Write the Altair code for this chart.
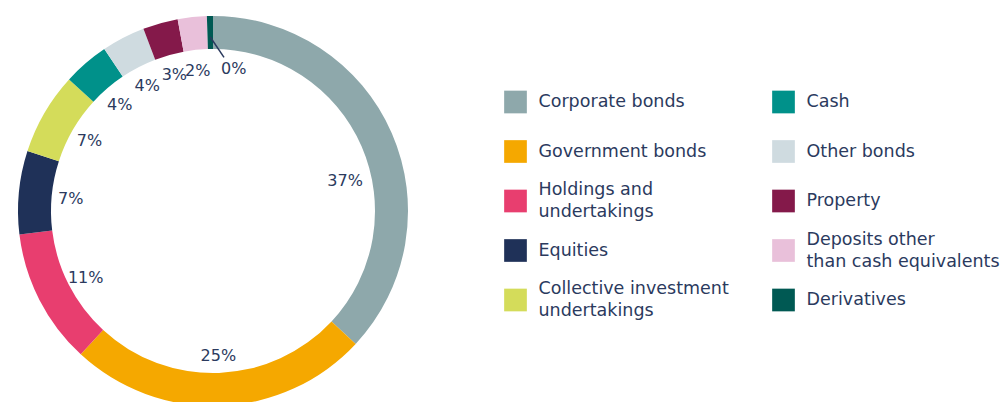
import math
import altair as alt
import pandas as pd

# ---- data ----
names = ["Corporate bonds", "Government bonds", "Holdings and undertakings", "Equities",
         "Collective investment undertakings", "Cash", "Other bonds", "Property",
         "Deposits other than cash equivalents", "Derivatives"]
legend_labels = ["Corporate bonds", "Government bonds", "Holdings and\nundertakings", "Equities",
                 "Collective investment\nundertakings", "Cash", "Other bonds", "Property",
                 "Deposits other\nthan cash equivalents", "Derivatives"]
values = [36.9, 24.9, 11.2, 6.9, 6.8, 3.8, 3.6, 2.9, 2.4, 0.5]
pct_labels = ["37%", "25%", "11%", "7%", "7%", "4%", "4%", "3%", "2%", "0%"]
colors = ["#8ea8ab", "#f5a800", "#e83e6f", "#1f3158", "#d4dc5a",
          "#00918a", "#cfdbe0", "#84194a", "#e9c0da", "#005953"]
legend_col = [0, 0, 0, 0, 0, 1, 1, 1, 1, 1]
legend_row = [0, 1, 2, 3, 4, 0, 1, 2, 3, 4]

TXT = "#2b3a5e"
FONT = "DejaVu Sans"

df = pd.DataFrame({
    "name": names,
    "value": values,
    "order": list(range(len(names))),
    "pct": pct_labels,
})
df["main_lbl"] = [p if n not in ("Corporate bonds", "Derivatives") else "" for n, p in zip(names, pct_labels)]
df["corp_lbl"] = [p if n == "Corporate bonds" else "" for n, p in zip(names, pct_labels)]
df["deriv_lbl"] = [p if n == "Derivatives" else "" for n, p in zip(names, pct_labels)]

color_scale = alt.Scale(domain=names, range=colors)

base = alt.Chart(df).encode(
    theta=alt.Theta("value:Q", stack=True),
    order=alt.Order("order:Q"),
)

arc = base.mark_arc(innerRadius=162, outerRadius=195).encode(
    color=alt.Color("name:N", scale=color_scale, legend=None)
)
txt_main = base.mark_text(radius=143, dy=2, fontSize=16, font=FONT, color=TXT).encode(text="main_lbl:N")
txt_corp = base.mark_text(radius=143, dx=1, dy=27, fontSize=16, font=FONT, color=TXT).encode(text="corp_lbl:N")
txt_der = base.mark_text(radius=143, dx=23, dy=1, fontSize=16, font=FONT, color=TXT).encode(text="deriv_lbl:N")

# leader line for the tiny derivatives slice, derived from the data
total = sum(values)
mid = (sum(values[:-1]) + values[-1] / 2) / total * 2 * math.pi
a2 = mid + math.radians(5)
lead = pd.DataFrame({
    "x": [174 * math.sin(mid)], "y": [174 * math.cos(mid)],
    "x2": [154 * math.sin(a2)], "y2": [154 * math.cos(a2)],
})
rule = alt.Chart(lead).mark_rule(color=TXT, strokeWidth=1.5).encode(
    x=alt.X("x:Q", scale=alt.Scale(domain=[-200, 200], nice=False, zero=False), axis=None),
    y=alt.Y("y:Q", scale=alt.Scale(domain=[-198, 198], nice=False, zero=False), axis=None),
    x2="x2:Q", y2="y2:Q",
)

donut = alt.layer(arc, txt_main, txt_corp, txt_der, rule).properties(width=400, height=396)

leg_df = pd.DataFrame({
    "name": names,
    "label1": [l if "\n" not in l else "" for l in legend_labels],
    "label2": [l if "\n" in l else "" for l in legend_labels],
    "col": legend_col,
    "row": legend_row,
})
leg_base = alt.Chart(leg_df).encode(
    x=alt.X("col:Q", scale=alt.Scale(domain=[0, 1], range=[102.5, 370.5]), axis=None),
    y=alt.Y("row:Q", scale=alt.Scale(domain=[0, 4], range=[89, 287]), axis=None),
)
leg_sq = leg_base.mark_square(size=515, opacity=1).encode(
    color=alt.Color("name:N", scale=color_scale, legend=None)
)
leg_txt1 = leg_base.mark_text(align="left", baseline="middle", dx=23, fontSize=17.5, font=FONT,
                              color=TXT, clip=True).encode(text="label1:N")
leg_txt2 = leg_base.mark_text(align="left", baseline="middle", dx=23, dy=-11, fontSize=17.5, font=FONT,
                              color=TXT, lineBreak="\n", lineHeight=22, clip=True).encode(text="label2:N")
legend = alt.layer(leg_sq, leg_txt1, leg_txt2).properties(width=587, height=396)

chart = alt.hconcat(donut, legend, spacing=0).properties(
    padding={"left": 5, "top": 5, "right": 0, "bottom": 0},
).configure_view(strokeWidth=0)

chart.save("out.html", embed_options={"renderer": "svg", "actions": False})
